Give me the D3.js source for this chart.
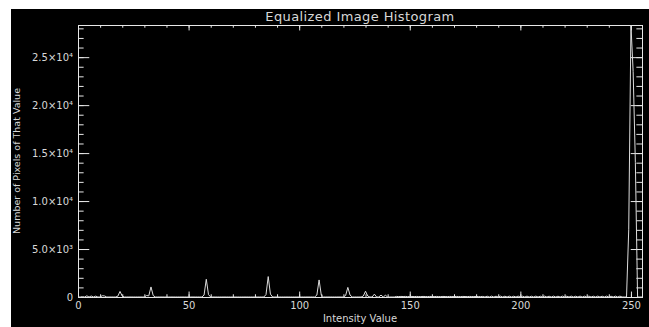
<!DOCTYPE html>
<html>
<head>
<meta charset="utf-8">
<script src="https://cdn.jsdelivr.net/npm/d3@7"></script>
<style>
  body { margin: 0; background: #fff; }
  text { font-family: "DejaVu Sans", sans-serif; fill: #d8d8d8; }
</style>
</head>
<body>
<div id="chart"></div>
<script>
// pixel counts for intensity 0..255
const counts = [
  0, 0, 40, 0, 120, 0, 100, 0, 90, 0,
  0, 130, 110, 0, 0, 0, 0, 0, 80, 580,
  90, 0, 0, 0, 0, 0, 0, 0, 0, 0,
  0, 150, 120, 1050, 150, 0, 0, 0, 0, 0,
  0, 0, 0, 0, 0, 0, 0, 0, 0, 0,
  0, 0, 0, 0, 0, 0, 0, 200, 1850, 250,
  0, 0, 0, 0, 0, 0, 0, 0, 0, 0,
  0, 0, 0, 0, 0, 0, 0, 0, 0, 0,
  0, 0, 0, 0, 0, 250, 2130, 300, 0, 0,
  0, 0, 0, 0, 0, 0, 0, 0, 0, 0,
  0, 0, 0, 0, 0, 0, 0, 0, 200, 1780,
  200, 0, 0, 0, 0, 0, 0, 0, 0, 0,
  0, 150, 1000, 200, 0, 0, 0, 0, 0, 100,
  600, 100, 0, 0, 300, 0, 0, 200, 0, 180,
  0, 0, 0, 0, 60, 40, 60, 50, 60, 40,
  50, 60, 40, 60, 50, 40, 60, 50, 40, 60,
  50, 40, 60, 50, 40, 60, 50, 40, 60, 50,
  40, 60, 50, 40, 60, 50, 40, 60, 50, 40,
  60, 50, 40, 60, 0, 80, 0, 90, 0, 80,
  0, 90, 0, 80, 0, 90, 0, 80, 0, 90,
  0, 80, 0, 90, 0, 80, 0, 90, 0, 80,
  0, 90, 0, 80, 0, 90, 0, 80, 0, 90,
  0, 80, 0, 90, 0, 80, 0, 90, 0, 80,
  0, 90, 0, 80, 0, 90, 0, 80, 0, 90,
  0, 80, 0, 90, 0, 90, 0, 0, 0, 7000,
  28350, 23500, 14000, 0, 0, 0
];

const xTicks = [0, 50, 100, 150, 200, 250];
const xTickLabels = ["0", "50", "100", "150", "200", "250"];
const yTicks = [0, 5000, 10000, 15000, 20000, 25000];
const yTickLabels = ["0", "5.0×10³", "1.0×10⁴", "1.5×10⁴", "2.0×10⁴", "2.5×10⁴"];

const W = 649, H = 327;
const margin = { top: 25, right: 7, bottom: 30, left: 78 };
const width = W - margin.left - margin.right;
const height = H - margin.top - margin.bottom;

const svg = d3.select("#chart").append("svg")
  .attr("width", W)
  .attr("height", H);

// black window with the white strip at top/left
svg.append("rect")
  .attr("x", 11).attr("y", 9)
  .attr("width", W - 11).attr("height", H - 9)
  .attr("fill", "#000");

const g = svg.append("g")
  .attr("transform", "translate(" + margin.left + "," + margin.top + ")");

const x = d3.scaleLinear().domain([0, 255]).range([0, width]);
const y = d3.scaleLinear().domain([0, d3.max(counts)]).range([height, 0]);

const xMinor = d3.range(0, 256, 10);
const yMinor = d3.range(0, d3.max(counts), 1000);

const majX = height * 0.02, majY = width * 0.02;

function styleAxis(sel) {
  sel.select(".domain").attr("stroke", "#e8e8e8");
  sel.selectAll(".tick line").attr("stroke", "#e8e8e8");
  sel.selectAll("text").attr("fill", "#d8d8d8").style("font-size", "10px");
}

// minor ticks (all four sides)
g.append("g").attr("transform", "translate(0," + height + ")")
  .call(d3.axisBottom(x).tickValues(xMinor).tickSize(-majX / 2).tickFormat(""))
  .call(styleAxis);
g.append("g")
  .call(d3.axisTop(x).tickValues(xMinor).tickSize(-majX / 2).tickFormat(""))
  .call(styleAxis);
g.append("g")
  .call(d3.axisLeft(y).tickValues(yMinor).tickSize(-majY / 2).tickFormat(""))
  .call(styleAxis);
g.append("g").attr("transform", "translate(" + width + ",0)")
  .call(d3.axisRight(y).tickValues(yMinor).tickSize(-majY / 2).tickFormat(""))
  .call(styleAxis);

// major ticks
g.append("g").attr("transform", "translate(0," + height + ")")
  .call(d3.axisBottom(x).tickValues(xTicks).tickSize(-majX).tickPadding(5)
    .tickFormat((d, i) => xTickLabels[i]))
  .call(styleAxis);
g.append("g")
  .call(d3.axisTop(x).tickValues(xTicks).tickSize(-majX).tickFormat(""))
  .call(styleAxis);
g.append("g")
  .call(d3.axisLeft(y).tickValues(yTicks).tickSize(-majY).tickPadding(5)
    .tickFormat((d, i) => yTickLabels[i]))
  .call(styleAxis);
g.append("g").attr("transform", "translate(" + width + ",0)")
  .call(d3.axisRight(y).tickValues(yTicks).tickSize(-majY).tickFormat(""))
  .call(styleAxis);

// histogram line
g.append("clipPath").attr("id", "clip")
  .append("rect").attr("width", width).attr("height", height + 1);

g.append("path")
  .datum(counts)
  .attr("clip-path", "url(#clip)")
  .attr("fill", "none")
  .attr("stroke", "#dcdcdc")
  .attr("stroke-width", 1)
  .attr("d", d3.line().x((d, i) => x(i)).y(d => y(d)));

// titles
svg.append("text")
  .attr("x", margin.left + width / 2).attr("y", 21)
  .attr("text-anchor", "middle")
  .style("font-size", "13px")
  .style("letter-spacing", "0.4px")
  .text("Equalized Image Histogram");

svg.append("text")
  .attr("x", margin.left + width / 2).attr("y", 322)
  .attr("text-anchor", "middle")
  .style("font-size", "10px")
  .text("Intensity Value");

svg.append("text")
  .attr("transform", "translate(20," + (margin.top + height / 2) + ")rotate(-90)")
  .attr("text-anchor", "middle")
  .style("font-size", "9.5px")
  .text("Number of Pixels of That Value");
</script>
</body>
</html>
